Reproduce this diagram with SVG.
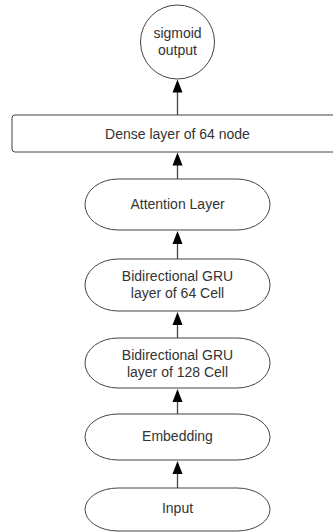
<svg xmlns="http://www.w3.org/2000/svg" width="333" height="532" viewBox="0 0 333 532">
<style>
.s{fill:#fff;stroke:#444;stroke-width:1}
.t{font-family:"Liberation Sans",Arial,sans-serif;font-size:14px;fill:#333;text-anchor:middle;dominant-baseline:central}
.c{stroke:#444;stroke-width:1.3;fill:none}
</style>
<rect width="333" height="532" fill="#fff"/>
<g id="connectors">
<line class="c" x1="177.5" y1="115" x2="177.5" y2="88"/>
<line class="c" x1="177.5" y1="179" x2="177.5" y2="160"/>
<line class="c" x1="177.5" y1="259" x2="177.5" y2="239"/>
<line class="c" x1="177.5" y1="338" x2="177.5" y2="320"/>
<line class="c" x1="177.5" y1="414" x2="177.5" y2="397"/>
<line class="c" x1="177.5" y1="488" x2="177.5" y2="469"/>
<path d="M177.5,79.5 l5,13 h-10 z M177.5,152.5 l5,13 h-10 z M177.5,231 l5,13 h-10 z M177.5,312 l5,13 h-10 z M177.5,389 l5,13 h-10 z M177.5,461 l5,13 h-10 z" fill="#000"/>
</g>
<g id="sigmoid">
<circle class="s" cx="177.5" cy="42" r="37"/>
<text class="t" x="177.5" y="33">sigmoid</text>
<text class="t" x="177.5" y="50">output</text>
</g>
<g id="dense">
<rect class="s" x="12" y="115" width="330" height="37" rx="3"/>
<text class="t" x="177.5" y="134">Dense layer of 64 node</text>
</g>
<g id="attention">
<rect class="s" x="85" y="179" width="185" height="51" rx="33" ry="25.5"/>
<text class="t" x="177.5" y="204">Attention Layer</text>
</g>
<g id="gru64">
<rect class="s" x="85" y="259" width="185" height="52" rx="33" ry="26"/>
<text class="t" x="177.5" y="276">Bidirectional GRU</text>
<text class="t" x="177.5" y="293">layer of 64 Cell</text>
</g>
<g id="gru128">
<rect class="s" x="85" y="338" width="185" height="50" rx="33" ry="25"/>
<text class="t" x="177.5" y="355">Bidirectional GRU</text>
<text class="t" x="177.5" y="372">layer of 128 Cell</text>
</g>
<g id="embedding">
<rect class="s" x="85" y="414" width="185" height="46" rx="33" ry="23"/>
<text class="t" x="177.5" y="436">Embedding</text>
</g>
<g id="input">
<rect class="s" x="85" y="488" width="185" height="43" rx="33" ry="21.5"/>
<text class="t" x="177.5" y="508">Input</text>
</g>
</svg>
